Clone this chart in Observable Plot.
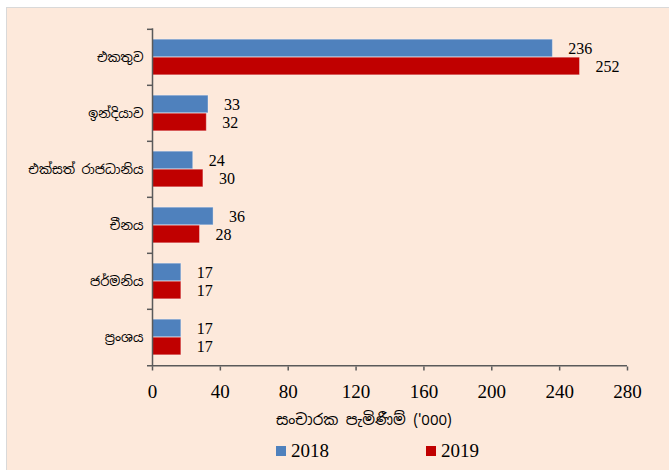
<!DOCTYPE html>
<html>
<head>
<meta charset="utf-8">
<script src="https://cdn.jsdelivr.net/npm/d3@7"></script>
<script src="https://cdn.jsdelivr.net/npm/@observablehq/plot@0.6"></script>
<style>
  body { margin: 0; background: #ffffff; }
  #wrap { position: relative; width: 669px; height: 470px; overflow: hidden; background: #ffffff; }
  #panel { position: absolute; left: 6px; top: 7px; width: 670px; height: 470px; background: #fde9db; border: 1px solid #d9d9d9; box-sizing: border-box; }
  #chart { position: absolute; left: 0; top: 0; }
  #xtitle { position: absolute; left: 276px; top: 410px; font-family: "Noto Sans Sinhala", "Noto Serif Sinhala", "Noto Sans", sans-serif; font-size: 15px; color: #000; white-space: nowrap; }
  #legend { position: absolute; top: 440px; left: 276px; font-family: "Liberation Serif", "DejaVu Serif", serif; font-size: 19px; color: #000; }
  .item { position: absolute; top: 0; display: flex; align-items: center; white-space: nowrap; }
  .sw { width: 10px; height: 10px; margin-right: 5px; }
</style>
</head>
<body>
<div id="wrap">
  <div id="panel"></div>
  <div id="chart"></div>
  <div id="xtitle"></div>
  <div id="legend"></div>
</div>
<script>
const countries = ["එකතුව", "ඉන්දියාව", "එක්සත් රාජධානිය", "චීනය", "ජර්මනිය", "ප්‍රංශය"];
const years = ["2018", "2019"];
const values2018 = [236, 33, 24, 36, 17, 17];
const values2019 = [252, 32, 30, 28, 17, 17];
const xTicks = [0, 40, 80, 120, 160, 200, 240, 280];
const xTitle = "සංචාරක පැමිණීම් ('000)";
const colors = ["#4f81bd", "#c00000"];

const data = [];
countries.forEach((c, i) => {
  data.push({country: c, year: years[0], value: values2018[i]});
  data.push({country: c, year: years[1], value: values2019[i]});
});
const d18 = data.filter(d => d.year === years[0]);
const d19 = data.filter(d => d.year === years[1]);

const plotTop = 28.3, plotBottom = 366.5;
const step = (plotBottom - plotTop) / countries.length;
const half = step / 2;
const barH = 18;
const pad = (step - 2 * barH) / 2;
const sinhala = "'Noto Sans Sinhala', 'Noto Serif Sinhala', 'Noto Sans', sans-serif";
const serif = "'Liberation Serif', 'DejaVu Serif', serif";
const axisColor = "#5a5a5a";

const H = 410;
const chart = Plot.plot({
  width: 669,
  height: H,
  marginLeft: 152,
  marginRight: 42,
  marginTop: plotTop,
  marginBottom: H - plotBottom,
  style: {background: "transparent", overflow: "visible"},
  x: {domain: [0, 280]},
  y: {domain: countries, padding: 0},
  marks: [
    Plot.barX(d18, {y: "country", x: "value", fill: colors[0], stroke: "#ffffff", strokeOpacity: 0.35, strokeWidth: 1, insetTop: pad, insetBottom: step - pad - barH}),
    Plot.barX(d19, {y: "country", x: "value", fill: colors[1], stroke: "#ffffff", strokeOpacity: 0.35, strokeWidth: 1, insetTop: pad + barH, insetBottom: pad}),
    Plot.text(d18, {y: "country", x: "value", text: d => String(d.value), dx: 15.5, dy: -barH / 2, textAnchor: "start", fontSize: 16, fontFamily: serif, fill: "#000"}),
    Plot.text(d19, {y: "country", x: "value", text: d => String(d.value), dx: 15.5, dy: barH / 2, textAnchor: "start", fontSize: 16, fontFamily: serif, fill: "#000"}),
    Plot.ruleX([0], {stroke: axisColor, strokeWidth: 1.5}),
    Plot.tickY(countries, {y: d => d, dy: -half, insetLeft: -5, insetRight: 669 - 152 - 42, stroke: axisColor, strokeWidth: 1.5}),
    Plot.tickY([countries[countries.length - 1]], {y: d => d, dy: half, insetLeft: -5, stroke: axisColor, strokeWidth: 1.5}),
    Plot.axisY({tickSize: 0, tickPadding: 9, fontSize: 13, fontFamily: sinhala, fill: "#000", label: null}),
    Plot.axisX({ticks: xTicks, tickSize: 4, tickPadding: 13, fontSize: 19, fontFamily: serif, fill: "#000", stroke: axisColor, strokeWidth: 1.5, label: null})
  ]
});
document.getElementById("chart").appendChild(chart);
document.getElementById("xtitle").textContent = xTitle;

const legend = document.getElementById("legend");
const offsets = [0, 150];
years.forEach((y, i) => {
  const it = document.createElement("div");
  it.className = "item";
  it.style.left = offsets[i] + "px";
  const sw = document.createElement("span");
  sw.className = "sw";
  sw.style.background = colors[i];
  const t = document.createElement("span");
  t.textContent = y;
  it.appendChild(sw); it.appendChild(t);
  legend.appendChild(it);
});
</script>
</body>
</html>
